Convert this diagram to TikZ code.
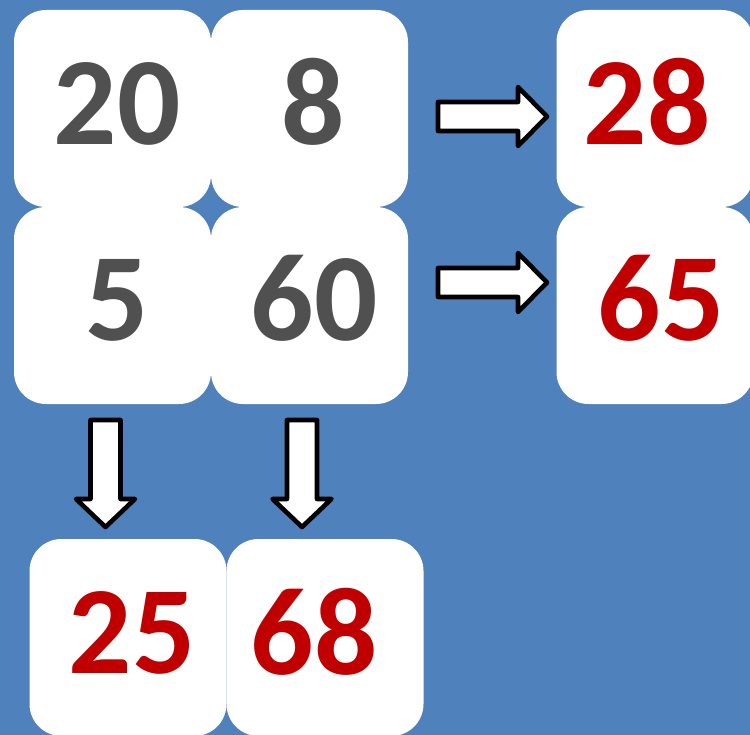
\documentclass[tikz,border=0pt]{standalone}
\usepackage{fontspec}
\setmainfont{Carlito}
\definecolor{bgblue}{HTML}{4F81BD}
\definecolor{numgray}{HTML}{505050}
\definecolor{numred}{HTML}{C00000}
\tikzset{
  card/.style={fill=white, draw=none, rounded corners=32pt, minimum width=197pt, minimum height=197pt, inner sep=0pt},
  num/.style={anchor=base, inner sep=0pt, font=\bfseries\fontsize{125}{125}\selectfont},
  oldnum/.style={num, text=numgray},
  newnum/.style={num, text=numred},
  blockarrow/.style={draw=black, fill=white, line width=4.6pt, line join=round}
}
\begin{document}
\begin{tikzpicture}[x=1pt,y=-1pt]
\fill[bgblue] (0,0) rectangle (750,735);
\useasboundingbox (0,0) rectangle (750,735);
\begin{scope}
\clip (0,0) rectangle (750,735);
% cards
\node[card] (c20) at (112.5,108.5) {};
\node[card] (c8)  at (309.5,108.5) {};
\node[card] (c5)  at (112.5,305.5) {};
\node[card] (c60) at (309.5,305.5) {};
\node[card] (c28) at (655,108.5) {};
\node[card] (c65) at (655,305.5) {};
\node[card] (c25) at (128,637.5) {};
\node[card] (c68) at (325,637.5) {};
% numbers
\node[oldnum] (t20) at (117,145) {20};
\node[oldnum] (t8)  at (313,145) {8};
\node[oldnum] (t5)  at (117,341) {5};
\node[oldnum] (t60) at (314,341) {60};
\node[newnum] (t28) at (647,145) {28};
\node[newnum] (t65) at (661,341) {65};
\node[newnum] (t25) at (132,673) {25};
\node[newnum] (t68) at (314,674) {68};
% block arrows
\draw[blockarrow] (438,102) -- (518,102) -- (518,87) -- (547,116.5) -- (518,146) -- (518,131) -- (438,131) -- cycle;
\draw[blockarrow] (438,268) -- (518,268) -- (518,253) -- (547,282.5) -- (518,312) -- (518,297) -- (438,297) -- cycle;
\draw[blockarrow] (90.5,420) -- (120.5,420) -- (120.5,499) -- (135,499) -- (105.5,527) -- (76,499) -- (90.5,499) -- cycle;
\draw[blockarrow] (287,420) -- (317,420) -- (317,499) -- (331.5,499) -- (302,527) -- (272.5,499) -- (287,499) -- cycle;
\end{scope}
\end{tikzpicture}
\end{document}
